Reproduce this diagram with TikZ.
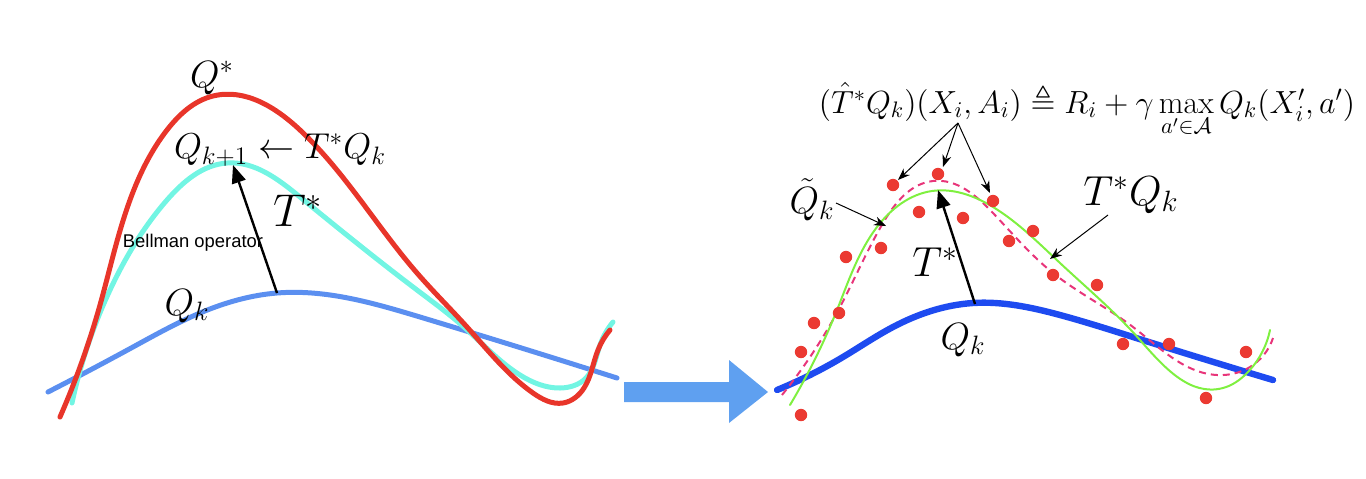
\documentclass[tikz,border=0pt]{standalone}
\usepackage{fix-cm}
\usepackage{amsmath,amssymb}
\usepackage{fontspec}
\newfontfamily\helvfont{Liberation Sans}
\usetikzlibrary{arrows.meta, hobby}
\definecolor{qstarRed}{HTML}{E8352A}
\definecolor{qnextCyan}{HTML}{72F5E3}
\definecolor{qkBlue}{HTML}{5B8FF0}
\definecolor{qkDeep}{HTML}{1E4BF0}
\definecolor{fitGreen}{HTML}{7FF040}
\definecolor{approxPink}{HTML}{E8357A}
\definecolor{sampleRed}{HTML}{EB3A32}
\definecolor{bigArrow}{HTML}{5FA0F0}

\begin{document}
\begin{tikzpicture}[
    x=0.5pt, y=-0.5pt,
    curve/.style={line width=2.5pt, line cap=round},
    mlbl/.style={inner sep=0pt, font=\fontsize{19}{22}\selectfont},
    sample/.style={fill=sampleRed, draw=none},
    pointer/.style={-{Stealth[length=6pt, width=4.5pt]}, line width=0.5pt},
    opArrow/.style={-{Triangle[length=9pt, width=7pt]}, line width=1.2pt},
]
    \useasboundingbox (0,0) rectangle (1366,478);

    % left panel: exact iteration
    \draw[curve, qkBlue] plot[hobby] coordinates {(48,392) (133,347) (200,313) (277,293) (420,317) (617,378)};
    \draw[curve, qnextCyan] plot[hobby] coordinates {(72,403) (110,290) (167,200) (227,163) (300,197) (417,290) (465,328) (520,375) (560,388) (586,378) (600,345) (613,322)};
    \draw[curve, qstarRed] plot[hobby] coordinates {(60,417) (100,305) (133,192) (167,130) (213,96) (300,130) (417,273) (467,327) (533,393) (563,403) (584,388) (598,350) (610,330)};

    \node[mlbl] (qstar) at (212,78) {$Q^*$};
    \node[mlbl, font=\fontsize{18}{22}\selectfont] (qnext) at (280,150) {$Q_{k+1}\leftarrow T^*Q_k$};
    \node[inner sep=0pt, font=\helvfont\fontsize{9.2}{11}\selectfont] (bellman) at (193,243) {Bellman operator};
    \node[mlbl, font=\fontsize{23}{26}\selectfont] (tstarL) at (298,211) {$T^*$};
    \node[mlbl] (qkL) at (187,306) {$Q_k$};

    \coordinate (qkTopL) at (277,293);
    \coordinate (qnextTop) at (233,165);
    \draw[opArrow] (qkTopL) -- (qnextTop);

    % big arrow between panels
    \fill[bigArrow] (624,382) -- (729,382) -- (729,360) -- (768,392) -- (729,423) -- (729,402) -- (624,402) -- cycle;

    % right panel: sampled iteration
    \draw[curve, qkDeep, line width=3.2pt] plot[hobby] coordinates {(777,390) (843,357) (893,327) (973,303) (1060,315) (1133,337) (1273,380)};
    \draw[curve, approxPink, line width=1pt, dash pattern=on 3.5pt off 2.5pt, line cap=butt] plot[hobby] coordinates {(782,395) (840,307) (883,223) (933,181) (993,213) (1053,273) (1133,327) (1217,375) (1250,367) (1273,338)};
    \draw[curve, fitGreen, line width=1pt] plot[hobby] coordinates {(790,405) (837,310) (877,227) (932,191) (993,207) (1060,263) (1140,340) (1223,388) (1247,373) (1270,330)};

    \foreach \px/\py in {893/185, 938/174, 993/201, 919/212, 963/218, 881/248, 846/257,
        1033/231, 1009/241, 1053/275, 839/313, 814/323, 801/352, 801/415,
        1097/285, 1123/344, 1169/344, 1246/352, 1206/398}
        \fill[sample] (\px,\py) circle (3.1pt);

    \node[anchor=base, inner sep=0pt, font=\fontsize{16}{20}\selectfont] (target) at (1087,113)
        {$(\hat{T}^*Q_k)(X_i,A_i)\triangleq R_i+\gamma\max\limits_{a'\in\mathcal{A}}Q_k(X'_i,a')$};
    \coordinate (targetFoot) at (958,123);
    \coordinate (sampleA) at (898,180);
    \coordinate (sampleB) at (943,167);
    \coordinate (sampleC) at (990,193);
    \draw[pointer] (targetFoot) -- (sampleA);
    \draw[pointer] (targetFoot) -- (sampleB);
    \draw[pointer] (targetFoot) -- (sampleC);

    \node[mlbl] (qtilde) at (812,200) {$\tilde{Q}_k$};
    \coordinate (qtildeFrom) at (836,203);
    \coordinate (qtildeOn) at (886,226);
    \draw[pointer] (qtildeFrom) -- (qtildeOn);

    \node[mlbl, font=\fontsize{21}{24}\selectfont] (tqk) at (1131,195) {$T^*Q_k$};
    \coordinate (tqkFrom) at (1108,215);
    \coordinate (tqkOn) at (1050,259);
    \draw[pointer] (tqkFrom) -- (tqkOn);

    \node[mlbl, font=\fontsize{21}{24}\selectfont] (tstarR) at (935,262) {$T^*$};
    \node[mlbl] (qkR) at (963,340) {$Q_k$};
    \coordinate (qkTopR) at (975,304);
    \coordinate (fitTop) at (938,190);
    \draw[opArrow] (qkTopR) -- (fitTop);
\end{tikzpicture}
\end{document}
